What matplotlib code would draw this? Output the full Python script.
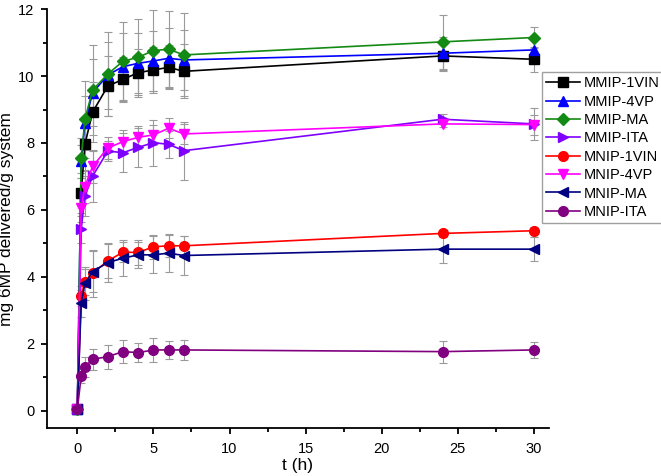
import matplotlib

matplotlib.use("Agg")

import matplotlib.pyplot as plt
from matplotlib.ticker import MultipleLocator

plt.rcParams["font.family"] = ["Liberation Sans", "DejaVu Sans"]

# time points (h)
t = [0, 0.25, 0.5, 1, 2, 3, 4, 5, 6, 7, 24, 30]

labels = ["MMIP-1VIN", "MMIP-4VP", "MMIP-MA", "MMIP-ITA",
          "MNIP-1VIN", "MNIP-4VP", "MNIP-MA", "MNIP-ITA"]

mmip_1vin = [0.05, 6.5, 7.97, 8.92, 9.7, 9.9, 10.1, 10.18, 10.26, 10.14, 10.6, 10.5]
mmip_4vp = [0.05, 7.45, 8.6, 9.5, 10.03, 10.28, 10.38, 10.45, 10.53, 10.48, 10.68, 10.78]
mmip_ma = [0.05, 7.54, 8.71, 9.58, 10.06, 10.44, 10.56, 10.76, 10.8, 10.63, 11.02, 11.15]
mmip_ita = [0.05, 5.42, 6.42, 7.01, 7.76, 7.71, 7.87, 8.01, 7.96, 7.77, 8.71, 8.57]
mnip_1vin = [0.05, 3.44, 3.85, 4.11, 4.48, 4.74, 4.73, 4.9, 4.93, 4.93, 5.3, 5.38]
mnip_4vp = [0.05, 6.05, 6.7, 7.3, 7.85, 8.04, 8.17, 8.24, 8.44, 8.27, 8.57, 8.55]
mnip_ma = [0.05, 3.21, 3.81, 4.16, 4.43, 4.56, 4.66, 4.66, 4.71, 4.64, 4.83, 4.83]
mnip_ita = [0.05, 1.04, 1.32, 1.54, 1.62, 1.77, 1.74, 1.82, 1.82, 1.82, 1.77, 1.82]

err_mmip_1vin = [0.05, 0.6, 0.8, 0.9, 0.9, 0.67, 0.72, 0.7, 0.66, 0.81, 0.45, 0.37]
err_mmip_4vp = [0.05, 0.5, 0.8, 1.0, 1.0, 1.0, 0.9, 0.9, 0.9, 0.9, 0.5, 0.3]
err_mmip_ma = [0.05, 0.6, 1.15, 1.35, 1.24, 1.18, 1.14, 1.2, 1.13, 1.24, 0.8, 0.3]
err_mmip_ita = [0.05, 0.4, 0.6, 0.76, 0.3, 0.59, 0.58, 0.69, 0.4, 0.87, 0.15, 0.48]
err_mnip_1vin = [0.05, 0.3, 0.4, 0.7, 0.5, 0.3, 0.37, 0.35, 0.32, 0.3, 0.1, 0.1]
err_mnip_4vp = [0.05, 0.4, 0.5, 0.5, 0.34, 0.35, 0.34, 0.3, 0.3, 0.3, 0.1, 0.3]
err_mnip_ma = [0.05, 0.4, 0.5, 0.6, 0.57, 0.53, 0.38, 0.55, 0.57, 0.58, 0.4, 0.36]
err_mnip_ita = [0.05, 0.2, 0.3, 0.32, 0.36, 0.35, 0.28, 0.35, 0.28, 0.31, 0.33, 0.23]

values = [mmip_1vin, mmip_4vp, mmip_ma, mmip_ita, mnip_1vin, mnip_4vp, mnip_ma, mnip_ita]
errors = [err_mmip_1vin, err_mmip_4vp, err_mmip_ma, err_mmip_ita,
          err_mnip_1vin, err_mnip_4vp, err_mnip_ma, err_mnip_ita]
colors = ["#000000", "#0000ff", "#138a13", "#7f00ff",
          "#ff0000", "#ff00ff", "#000080", "#800080"]
markers = ["s", "^", "D", ">", "o", "v", "<", "o"]
sizes = [6.5, 7, 6, 7, 7, 7, 7, 7]

fig = plt.figure(figsize=(6.61, 4.76), dpi=100)
ax = fig.add_axes([0.071, 0.1002, 0.7596, 0.8808])

for y, e, c, m, ms, lab in zip(values, errors, colors, markers, sizes, labels):
    ax.errorbar(t, y, yerr=e, fmt="none", ecolor="#9a9a9a", elinewidth=0.8,
                capsize=3, capthick=0.8, zorder=1)
    ax.plot(t, y, color=c, marker=m, markersize=ms, markeredgecolor=c,
            linewidth=1.2, label=lab, zorder=2)

ax.set_xlim(-2, 31)
ax.set_ylim(-0.52, 12)
ax.xaxis.set_major_locator(MultipleLocator(5))
ax.xaxis.set_minor_locator(MultipleLocator(2.5))
ax.yaxis.set_major_locator(MultipleLocator(2))
ax.yaxis.set_minor_locator(MultipleLocator(1))

ax.spines["top"].set_visible(False)
ax.spines["right"].set_visible(False)
ax.spines["left"].set_linewidth(1.3)
ax.spines["bottom"].set_linewidth(1.3)
ax.tick_params(which="major", direction="out", length=4, width=1.3, labelsize=10.5)
ax.tick_params(axis="x", which="major", pad=6)
ax.tick_params(axis="y", which="major", pad=5)
ax.tick_params(which="minor", direction="out", length=3, width=1.3)

ax.set_xlabel("t (h)", fontsize=12.5, labelpad=1)
ax.set_ylabel("mg 6MP delivered/g system", fontsize=12.5, labelpad=3)

fig.legend(loc="upper left", bbox_to_anchor=(0.8195, 0.849), borderaxespad=0,
           fontsize=10.5, frameon=True, fancybox=False, edgecolor="#888888",
           handlelength=2.3, labelspacing=0.3, handletextpad=0.3,
           borderpad=0.3)

plt.savefig("out.png", dpi=100)
plt.close()
